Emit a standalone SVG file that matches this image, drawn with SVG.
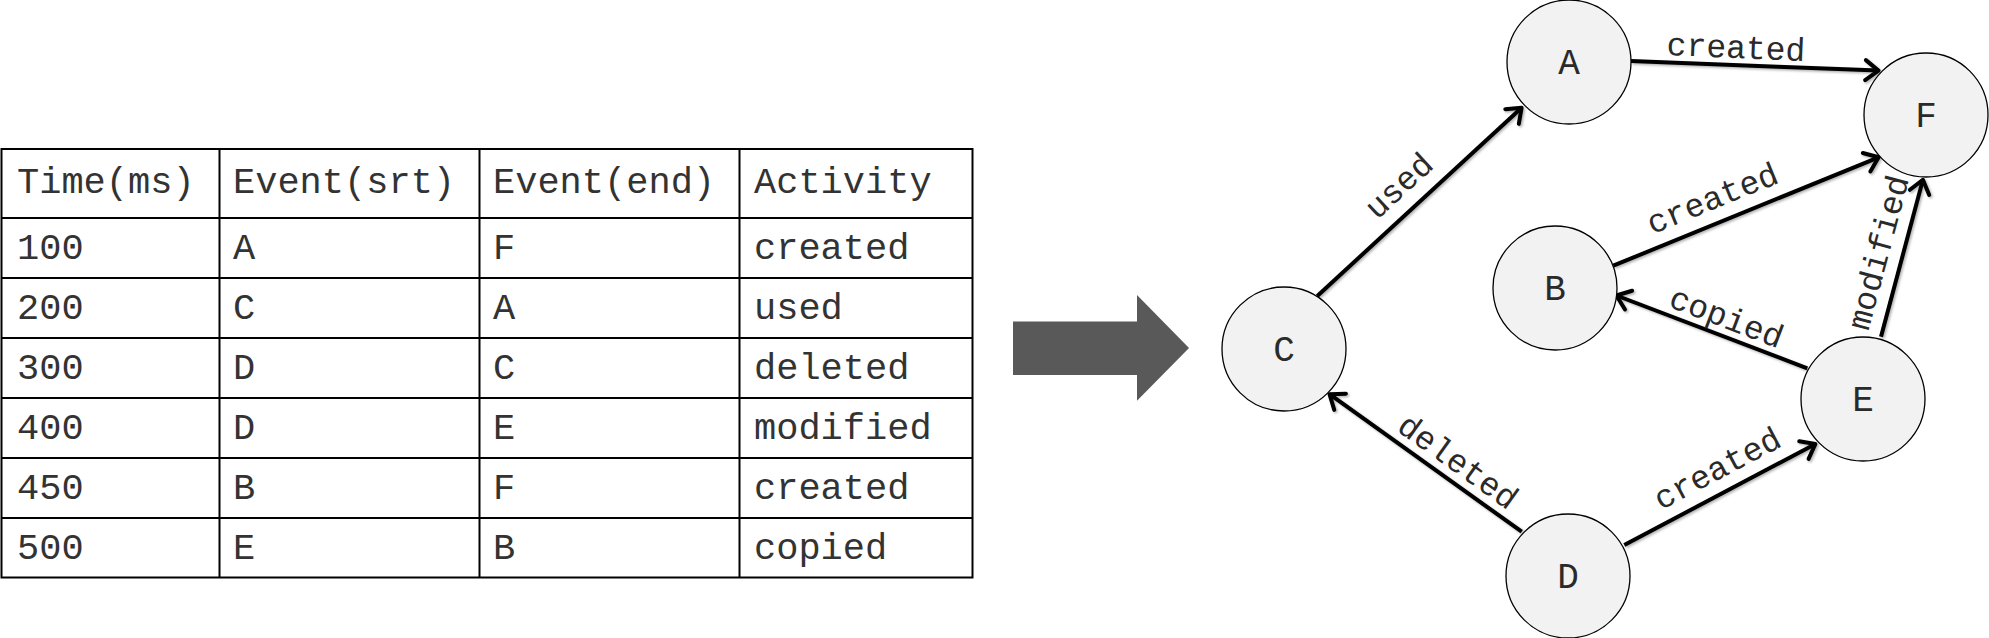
<svg xmlns="http://www.w3.org/2000/svg" width="1989" height="638" viewBox="0 0 1989 638">
<style>
.tbl { fill: none; stroke: #000; stroke-width: 2; }
.tt { font-family: "Liberation Mono", "Courier New", monospace; font-size: 37px; fill: #333; }
.node circle { fill: #f2f2f2; stroke: #000; stroke-width: 1.3; }
.nl { font-family: "Liberation Mono", "Courier New", monospace; font-size: 36px; fill: #2a2a2a; text-anchor: middle; }
.edge { stroke: #000; stroke-width: 4; fill: none; marker-end: url(#arr); }
.el { font-family: "Liberation Mono", "Courier New", monospace; font-size: 33px; fill: #2a2a2a; text-anchor: middle; }
</style>
<defs>
<marker id="arr" markerUnits="userSpaceOnUse" markerWidth="40" markerHeight="40" viewBox="-20 -20 40 40" refX="0" refY="0" orient="auto">
<path d="M-13,-10 L0,0 L-13,10" fill="none" stroke="#000" stroke-width="4" stroke-linejoin="round" stroke-linecap="round"/>
</marker>
<filter id="sh" x="-10%" y="-10%" width="120%" height="120%">
<feDropShadow dx="1.5" dy="1.5" stdDeviation="1.2" flood-color="#000" flood-opacity="0.3"/>
</filter>
</defs>
<rect width="1989" height="638" fill="#fff"/>

<g id="table">
<rect class="tbl" x="1.5" y="149" width="971" height="428.5"/>
<path class="tbl" d="M219.5,149V577.5 M479.5,149V577.5 M739.5,149V577.5 M1.5,218H972.5 M1.5,278H972.5 M1.5,338H972.5 M1.5,398H972.5 M1.5,458H972.5 M1.5,518H972.5"/>
<g class="tt">
<text x="17" y="193">Time(ms)</text><text x="233" y="193">Event(srt)</text><text x="493" y="193">Event(end)</text><text x="754" y="193">Activity</text>
<text x="17" y="259">100</text><text x="233" y="259">A</text><text x="493" y="259">F</text><text x="754" y="259">created</text>
<text x="17" y="319">200</text><text x="233" y="319">C</text><text x="493" y="319">A</text><text x="754" y="319">used</text>
<text x="17" y="379">300</text><text x="233" y="379">D</text><text x="493" y="379">C</text><text x="754" y="379">deleted</text>
<text x="17" y="439">400</text><text x="233" y="439">D</text><text x="493" y="439">E</text><text x="754" y="439">modified</text>
<text x="17" y="499">450</text><text x="233" y="499">B</text><text x="493" y="499">F</text><text x="754" y="499">created</text>
<text x="17" y="559">500</text><text x="233" y="559">E</text><text x="493" y="559">B</text><text x="754" y="559">copied</text>
</g>
</g>

<g id="bigarrow">
<polygon points="1013,321.5 1137,321.5 1137,295 1189,348 1137,400.7 1137,375 1013,375" fill="#595959"/>
</g>

<g id="connectors">
<g filter="url(#sh)">
<line class="edge" x1="1631" y1="61" x2="1878.5" y2="70.6"/>
<line class="edge" x1="1613.3" y1="265.7" x2="1878.6" y2="157.3"/>
<line class="edge" x1="1807.3" y1="368.3" x2="1616.4" y2="295.5"/>
<line class="edge" x1="1881" y1="336.7" x2="1922.9" y2="179.8"/>
<line class="edge" x1="1317.3" y1="296" x2="1521.6" y2="107.7"/>
<line class="edge" x1="1521.7" y1="531.7" x2="1329.5" y2="394.2"/>
<line class="edge" x1="1624.3" y1="545" x2="1815.4" y2="444"/>
</g>
<text class="el" transform="translate(1736,49) rotate(2.5)" y="9">created</text>
<text class="el" transform="translate(1713,200) rotate(-22.2)" y="9">created</text>
<text class="el" transform="translate(1726,319) rotate(20.9)" y="9">copied</text>
<text class="el" transform="translate(1880,253) rotate(-75)" y="9">modified</text>
<text class="el" transform="translate(1400,187) rotate(-42.7)" y="9">used</text>
<text class="el" transform="translate(1457,463) rotate(35.6)" y="9">deleted</text>
<text class="el" transform="translate(1718,470) rotate(-27.9)" y="9">created</text>
</g>

<g id="node-A" class="node"><circle cx="1569" cy="62" r="62"/><text class="nl" x="1569" y="74">A</text></g>
<g id="node-B" class="node"><circle cx="1555" cy="288" r="62"/><text class="nl" x="1555" y="300">B</text></g>
<g id="node-C" class="node"><circle cx="1284" cy="349" r="62"/><text class="nl" x="1284" y="361">C</text></g>
<g id="node-D" class="node"><circle cx="1568" cy="576" r="62"/><text class="nl" x="1568" y="588">D</text></g>
<g id="node-E" class="node"><circle cx="1863" cy="399" r="62"/><text class="nl" x="1863" y="411">E</text></g>
<g id="node-F" class="node"><circle cx="1926" cy="115" r="62"/><text class="nl" x="1926" y="127">F</text></g>
</svg>
